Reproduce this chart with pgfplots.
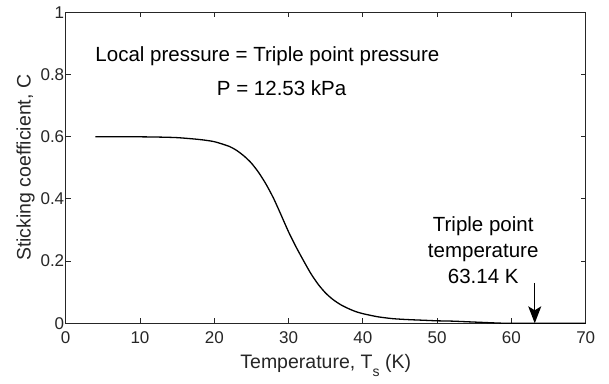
\documentclass[border=0pt]{standalone}
\usepackage{pgfplots}
\pgfplotsset{compat=1.18}
\usepackage{fontspec}
\setmainfont{Liberation Sans}
\usetikzlibrary{arrows.meta}
\definecolor{axgray}{gray}{0.15}
\begin{document}
\begin{tikzpicture}[x=1bp,y=1bp]
\useasboundingbox (0,0) rectangle (609,383);
\begin{axis}[
  at={(65.7bp,59.7bp)}, anchor=south west,
  scale only axis, width=520bp, height=311bp,
  xmin=0, xmax=70, ymin=0, ymax=1,
  xtick={0,10,...,70}, ytick={0,0.2,0.4,0.6,0.8,1},
  yticklabels={0,0.2,0.4,0.6,0.8,1},
  tick align=inside, major tick length=5bp,
  axis line style={axgray, line width=0.9bp},
  every tick/.style={axgray, line width=0.9bp},
  tick label style={font=\fontsize{17bp}{19bp}\selectfont, text=axgray},
  xticklabel style={yshift=-5bp},
  yticklabel style={xshift=2bp},
  /pgf/number format/assume math mode=true,
  label style={font=\fontsize{19.5bp}{22bp}\selectfont, text=axgray},
  xlabel={Temperature, T\raisebox{-0.4em}{\fontsize{14bp}{16bp}\selectfont s} (K)},
  xlabel style={yshift=-4bp},
  ylabel={Sticking coefficient, C},
  ylabel style={yshift=-1bp},
  clip=false,
]
\addplot[black, line width=1.3bp, smooth, tension=0.4] coordinates {
(4,0.600) (8,0.600) (12,0.599) (15,0.597) (18,0.591) (20,0.584) (22,0.569)
(23,0.556) (24,0.538) (25,0.515) (26,0.484) (27,0.446) (28,0.401) (29,0.348) (30,0.294)
(31,0.246) (32,0.202) (33,0.160) (34,0.125) (35,0.097) (36,0.076) (37,0.060)
(38,0.048) (39,0.038) (40,0.031) (42,0.021) (44,0.015) (46,0.012) (48,0.010) (50,0.008)
(52,0.007) (54,0.005) (56,0.003) (58,0.001) (60,0.000) (70,0.000)
};
\node[anchor=base, font=\fontsize{20.5bp}{24bp}\selectfont] at (axis cs:27.16,0.841) {Local pressure = Triple point pressure};
\node[anchor=base, font=\fontsize{20.5bp}{24bp}\selectfont] at (axis cs:29.07,0.734) {P = 12.53 kPa};
\node[anchor=base, font=\fontsize{20.5bp}{24bp}\selectfont] at (axis cs:56.2,0.2945) {Triple point};
\node[anchor=base, font=\fontsize{20.5bp}{24bp}\selectfont] at (axis cs:56.2,0.211) {temperature};
\node[anchor=base, font=\fontsize{20.5bp}{24bp}\selectfont] at (axis cs:56.2,0.1286) {63.14 K};
\draw[black, line width=1.2bp, -{Stealth[length=17bp,width=13bp,inset=4bp]}] (axis cs:63.14,0.13) -- (axis cs:63.14,0);
\end{axis}
\end{tikzpicture}
\end{document}
